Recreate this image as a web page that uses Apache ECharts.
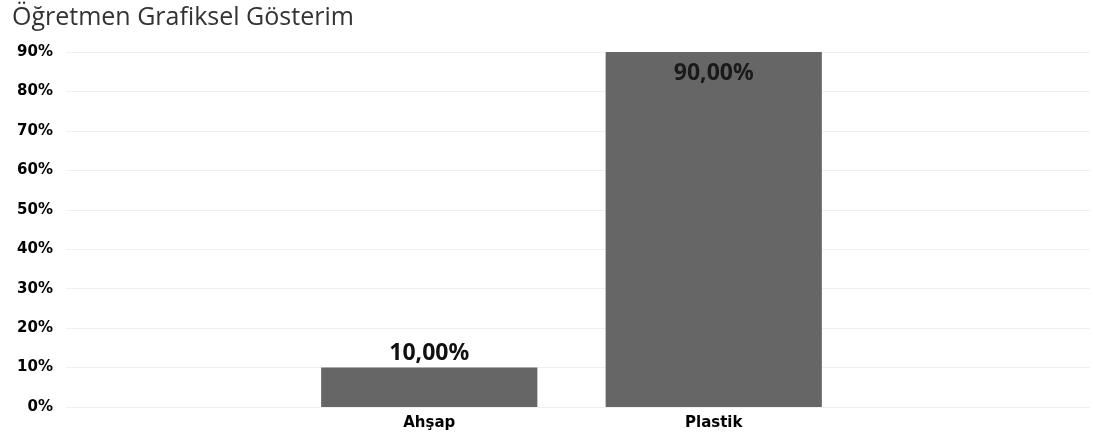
<!DOCTYPE html>
<html><head><meta charset="utf-8">
<script src="https://cdn.jsdelivr.net/npm/echarts@6/dist/echarts.min.js"></script>
<style>html,body{margin:0;padding:0;background:#fff}#c{width:1094px;height:444px}</style>
</head><body><div id="c"></div>
<script>
const titleText = 'Öğretmen Grafiksel Gösterim';
const categories = ['Ahşap', 'Plastik'];
const values = [10, 90];
const yTicks = [0, 10, 20, 30, 40, 50, 60, 70, 80, 90];

const chart = echarts.init(document.getElementById('c'));
const fmtPct = v => v.toFixed(2).replace('.', ',') + '%';
chart.setOption({
  animation: false,
  title: { text: titleText, left: 7, top: 0,
    textStyle: { fontFamily: 'Open Sans', fontWeight: 'normal', fontSize: 25, color: '#333' } },
  grid: [
    { left: 66, right: 4, top: 52, bottom: 37 },
    { left: 287, right: 238, top: 52, bottom: 37 }
  ],
  xAxis: [
    { gridIndex: 0, type: 'value', min: 0, max: 1, show: false },
    { gridIndex: 1, type: 'category', data: categories,
      axisLine: { show: false }, axisTick: { show: false },
      axisLabel: { margin: 9, color: '#000', fontFamily: 'DejaVu Sans', fontWeight: 'bold', fontSize: 15 } }
  ],
  yAxis: [
    { gridIndex: 0, type: 'value', min: 0, max: 90, interval: 10,
      axisLine: { show: false }, axisTick: { show: false },
      splitLine: { lineStyle: { color: '#efefef', width: 1 } },
      axisLabel: { margin: 13, color: '#000', fontFamily: 'DejaVu Sans', fontWeight: 'bold', fontSize: 15,
        formatter: v => yTicks.includes(v) ? v + '%' : '' } },
    { gridIndex: 1, type: 'value', min: 0, max: 90, show: false }
  ],
  series: [{
    type: 'bar', xAxisIndex: 1, yAxisIndex: 1,
    data: values.map(v => v >= 50 ? { value: v, label: { position: 'insideTop', distance: 10, color: '#1a1a1a' } } : v),
    barCategoryGap: '24%',
    itemStyle: { color: '#666666' },
    label: { show: true,
      position: 'top', distance: 3,
      color: '#111', fontFamily: 'Noto Sans', fontWeight: 'bold', fontSize: 23,
      formatter: p => fmtPct(p.value) }
  }]
});
</script></body></html>
